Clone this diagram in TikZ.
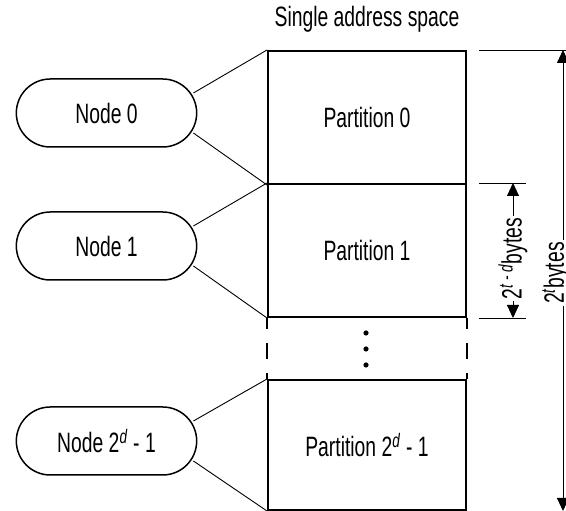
\documentclass[tikz,border=0pt]{standalone}
\usepackage{fontspec}
\setmainfont[FakeStretch=0.69]{Liberation Sans}
\usetikzlibrary{shapes.misc,arrows.meta,positioning}

\begin{document}
\begin{tikzpicture}[
  x=1pt, y=1pt,
  part/.style={draw, line width=2pt, minimum width=198pt, minimum height=133pt, inner sep=0pt},
  nodebox/.style={draw, rounded rectangle, line width=1.5pt, minimum width=187pt, minimum height=68pt},
  link/.style={line width=0.9pt},
  dim/.style={line width=0.9pt},
  gap/.style={line width=2pt, dash pattern=on 11pt off 14pt on 16pt off 14pt on 8pt},
  dimlabel/.style={fill=white, rotate=90, inner sep=2pt},
  >={Triangle[length=13pt,width=12pt]},
  font=\fontsize{28}{32}\selectfont
]
\useasboundingbox (0,0) rectangle (566,511);
\node[anchor=base] (title) at (367,484) {Single address space};
\node[part] (P0) at (367,393.5) {Partition 0};
\node[part] (P1) at (367,260.5) {Partition 1};
\node[part, minimum height=130pt] (P2) at (367,66) {Partition 2\textsuperscript{\textit{d}} - 1};
\draw[gap] (P1.south west) -- (P2.north west);
\draw[gap] (P1.south east) -- (P2.north east);
\foreach \y in {178,162,146}
  \fill (366,\y) circle (2.6);

\node[nodebox] (N0) at (106.5,398) {Node 0};
\node[nodebox] (N1) at (106.5,265) {Node 1};
\node[nodebox] (N2) at (106.5,70) {Node 2\textsuperscript{\textit{d}} - 1};
\foreach \n/\p in {N0/P0,N1/P1,N2/P2} {
  \draw[link] ([shift={(-4,20)}]\n.east) -- (\p.north west);
  \draw[link] ([shift={(-4,-20)}]\n.east) -- (\p.south west);
}

% dimensions
\coordinate (whole top) at ([xshift=96]P0.north east);
\coordinate (whole bottom) at ([xshift=96]P2.south east);
\coordinate (part top) at ([xshift=46]P1.north east);
\coordinate (part bottom) at ([xshift=46]P1.south east);
\draw[dim] ([xshift=12]P0.north east) -- ++(100,0);
\draw[dim] ([xshift=12]P2.south east) -- ++(100,0);
\draw[dim] ([xshift=12]P1.north east) -- ++(47,0);
\draw[dim] ([xshift=12]P1.south east) -- ++(47,0);
\draw[dim,<->] (whole bottom) -- node[dimlabel, pos=0.516, yshift=7pt] (whole) {2\textsuperscript{\textit{t}}bytes} (whole top);
\draw[dim,<->] (part bottom) -- node[dimlabel, pos=0.44] (size) {2\textsuperscript{\textit{t - d}}bytes} (part top);
\end{tikzpicture}
\end{document}
